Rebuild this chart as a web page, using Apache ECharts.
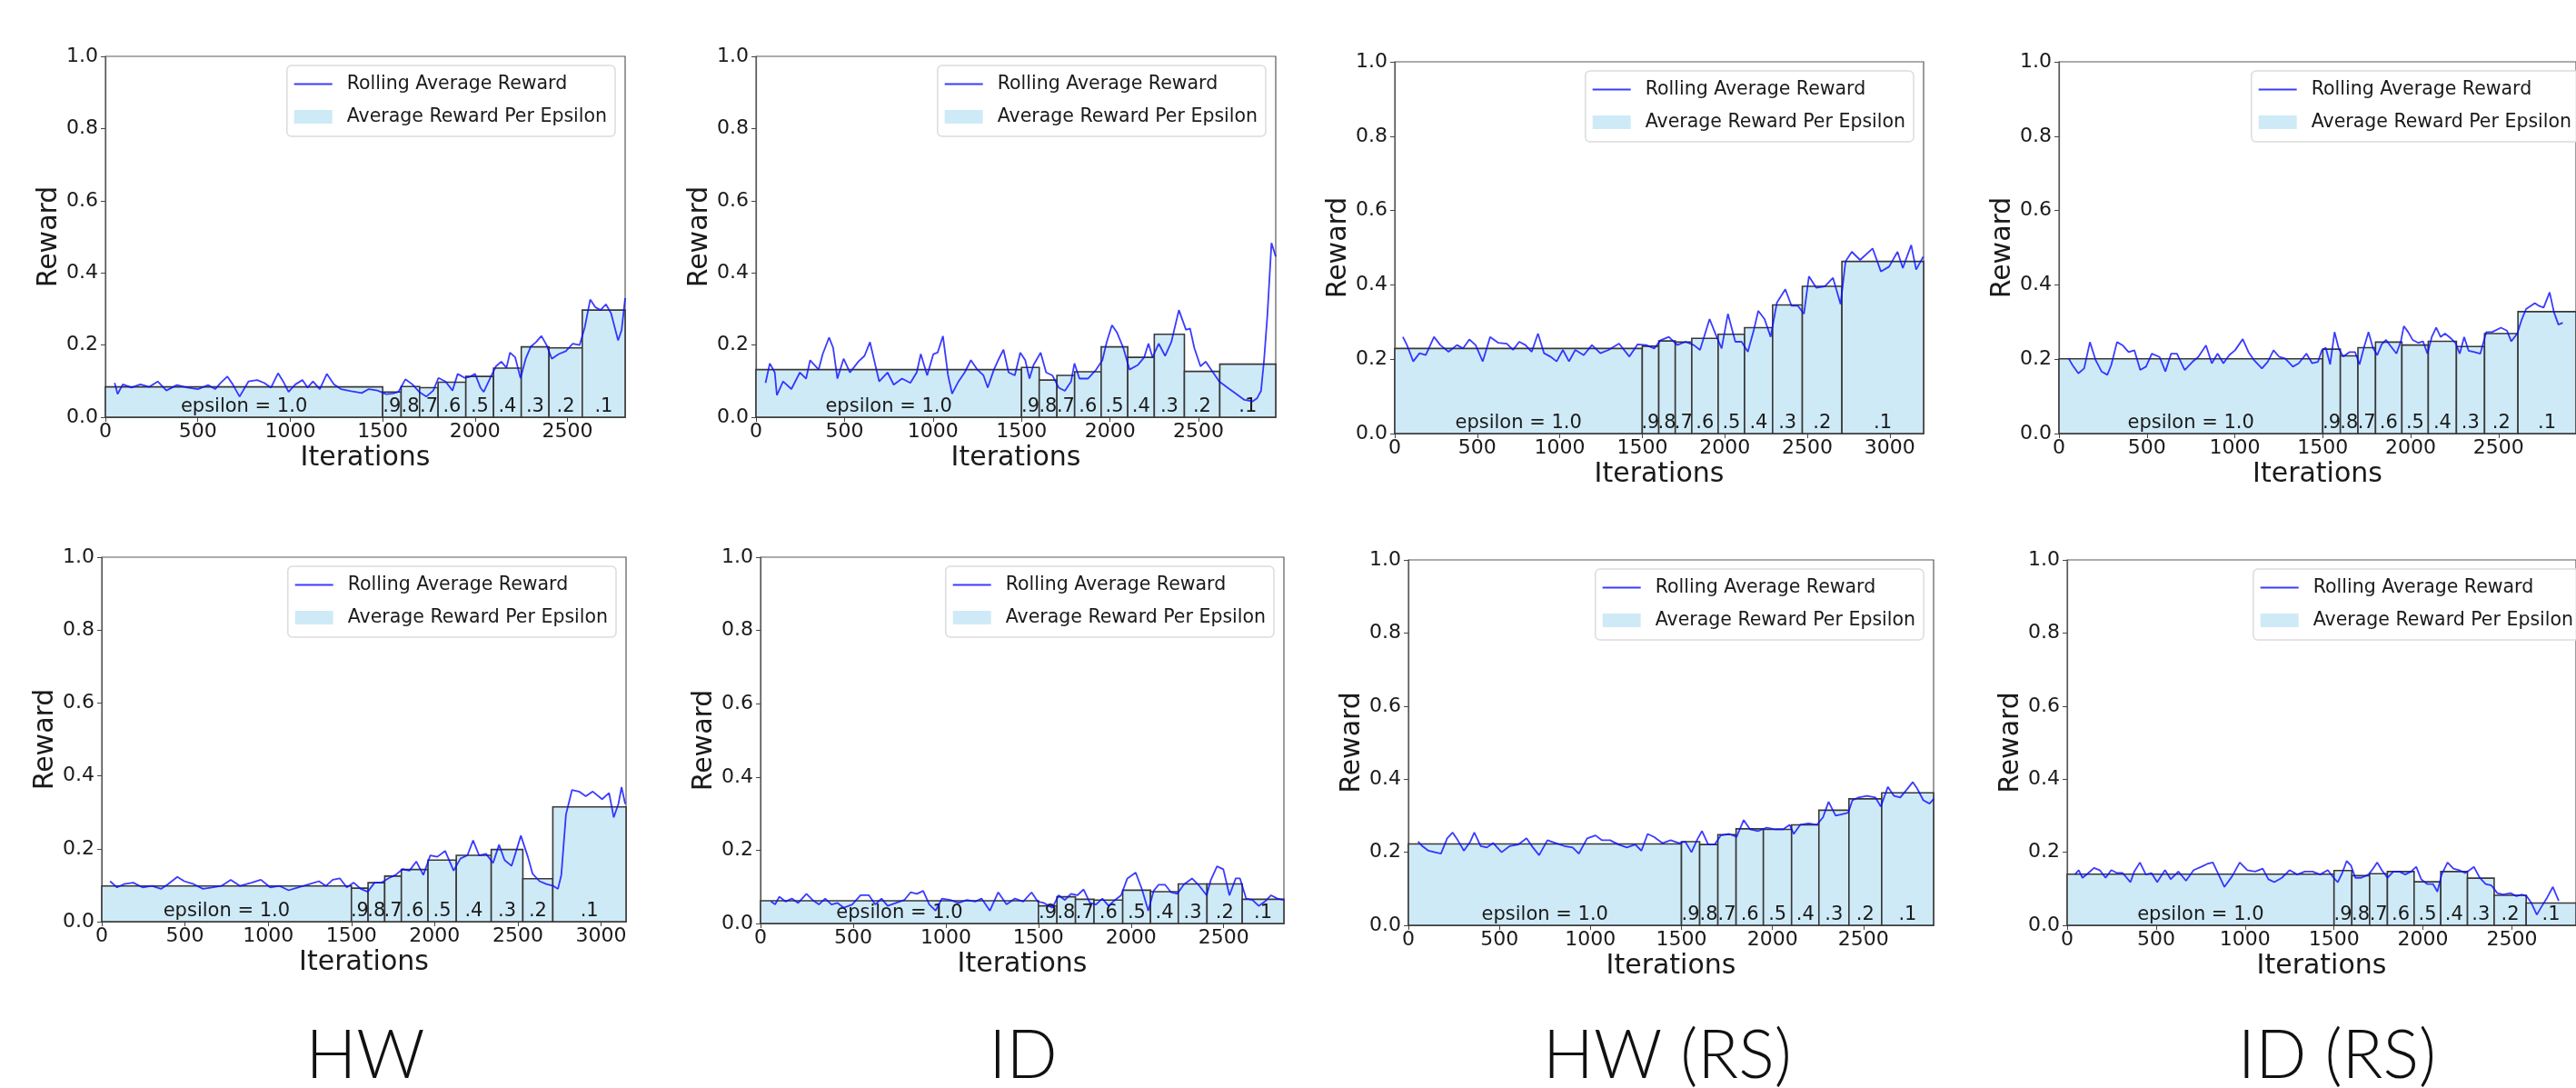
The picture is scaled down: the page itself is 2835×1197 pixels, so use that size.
<!DOCTYPE html>
<html>
<head>
<meta charset="utf-8">
<script src="https://cdn.jsdelivr.net/npm/echarts@6/dist/echarts.min.js"></script>
<style>
html, body { margin: 0; padding: 0; background: #fff; }
#main { width: 2835px; height: 1197px; }
</style>
</head>
<body>
<div id="main"></div>
<script>
// values
var epsLabels = ['epsilon = 1.0', '.9', '.8', '.7', '.6', '.5', '.4', '.3', '.2', '.1'];
var xTickValues = [0, 500, 1000, 1500, 2000, 2500, 3000];
var yTickValues = [0, 0.2, 0.4, 0.6, 0.8, 1.0];
var columnTitles = ['HW', 'ID', 'HW (RS)', 'ID (RS)'];

// HW, top row
var hwTopEdges = [0, 1500, 1600, 1700, 1800, 1950, 2100, 2250, 2400, 2580, 2812];
var hwTopAvg = [0.084, 0.070, 0.085, 0.082, 0.097, 0.113, 0.136, 0.195, 0.192, 0.297];
var hwTopReward = [[50,.095],[66,.064],[94,.091],[142,.082],[189,.091],[236,.084],[283,.099],[330,.074],[387,.089],[443,.082],[500,.078],[557,.089],[594,.078],[623,.095],[660,.113],[689,.091],[726,.057],[774,.099],[821,.103],[859,.095],[896,.082],[934,.122],[962,.099],[991,.070],[1028,.091],[1066,.103],[1094,.082],[1123,.099],[1160,.078],[1198,.120],[1236,.091],[1274,.078],[1330,.072],[1387,.067],[1425,.078],[1472,.074],[1519,.064],[1557,.066],[1585,.070],[1623,.105],[1661,.091],[1698,.070],[1736,.057],[1774,.074],[1802,.109],[1840,.099],[1878,.074],[1906,.120],[1944,.109],[1972,.112],[2000,.120],[2029,.082],[2047,.070],[2085,.112],[2113,.141],[2142,.154],[2170,.137],[2189,.179],[2217,.166],[2246,.108],[2274,.162],[2302,.196],[2330,.208],[2359,.225],[2387,.200],[2415,.162],[2453,.175],[2491,.183],[2529,.204],[2566,.200],[2594,.250],[2623,.326],[2651,.305],[2679,.297],[2708,.313],[2736,.288],[2755,.250],[2774,.213],[2793,.242],[2812,.330]];

// ID, top row
var idTopEdges = [0, 1500, 1600, 1700, 1800, 1950, 2100, 2250, 2420, 2620, 2936];
var idTopAvg = [0.132, 0.138, 0.103, 0.116, 0.126, 0.195, 0.166, 0.230, 0.127, 0.147];
var idTopReward = [[54,.095],[78,.149],[106,.124],[118,.061],[153,.099],[200,.078],[248,.124],[283,.107],[306,.158],[354,.132],[377,.175],[413,.221],[436,.192],[460,.107],[495,.162],[531,.124],[578,.154],[613,.170],[644,.208],[672,.149],[696,.099],[743,.124],[778,.090],[825,.107],[872,.095],[908,.124],[931,.175],[967,.116],[1002,.175],[1026,.179],[1056,.225],[1085,.116],[1108,.065],[1144,.099],[1179,.124],[1214,.158],[1250,.132],[1285,.116],[1309,.082],[1344,.132],[1368,.158],[1398,.187],[1427,.124],[1462,.116],[1493,.179],[1521,.158],[1545,.107],[1568,.145],[1608,.179],[1639,.124],[1674,.116],[1710,.082],[1745,.073],[1780,.099],[1799,.149],[1827,.107],[1875,.107],[1922,.132],[1957,.158],[1981,.208],[2011,.255],[2040,.234],[2075,.192],[2110,.132],[2158,.145],[2193,.166],[2217,.204],[2240,.166],[2275,.204],[2311,.170],[2346,.208],[2389,.297],[2429,.242],[2452,.246],[2476,.192],[2511,.141],[2540,.154],[2582,.124],[2617,.099],[2664,.082],[2712,.065],[2759,.048],[2806,.044],[2830,.052],[2853,.073],[2870,.158],[2889,.284],[2912,.483],[2936,.445]];

// HW (RS), top row
var hwRsTopEdges = [0, 1500, 1600, 1700, 1800, 1960, 2120, 2290, 2470, 2710, 3205];
var hwRsTopAvg = [0.229, 0.235, 0.249, 0.246, 0.256, 0.267, 0.285, 0.346, 0.396, 0.463];
var hwRsTopReward = [[49,.260],[74,.238],[112,.194],[150,.216],[188,.211],[238,.260],[276,.238],[326,.220],[377,.238],[414,.229],[452,.253],[490,.238],[533,.194],[578,.260],[628,.244],[679,.242],[717,.225],[754,.247],[792,.238],[830,.220],[868,.269],[905,.216],[943,.207],[981,.194],[1019,.225],[1056,.194],[1094,.225],[1145,.211],[1195,.238],[1246,.216],[1296,.225],[1359,.242],[1422,.207],[1472,.240],[1523,.238],[1573,.229],[1611,.251],[1661,.260],[1712,.238],[1762,.247],[1812,.238],[1850,.225],[1908,.308],[1951,.260],[1981,.229],[2019,.322],[2064,.247],[2102,.247],[2140,.220],[2178,.282],[2203,.330],[2241,.308],[2278,.260],[2316,.352],[2367,.388],[2404,.344],[2442,.344],[2480,.322],[2510,.423],[2555,.392],[2606,.396],[2656,.419],[2702,.348],[2732,.463],[2770,.489],[2820,.467],[2896,.498],[2946,.436],[2996,.449],[3047,.489],[3079,.445],[3130,.507],[3160,.441],[3203,.476]];

// ID (RS), top row
var idRsTopEdges = [0, 1500, 1600, 1700, 1800, 1950, 2100, 2260, 2420, 2610, 2940];
var idRsTopAvg = [0.201, 0.227, 0.209, 0.231, 0.246, 0.238, 0.248, 0.234, 0.269, 0.328];
var idRsTopReward = [[55,.202],[77,.184],[110,.162],[143,.175],[176,.246],[209,.197],[242,.167],[275,.158],[297,.184],[330,.246],[363,.237],[396,.219],[429,.224],[462,.171],[495,.180],[528,.215],[572,.206],[605,.167],[638,.215],[671,.215],[715,.171],[759,.193],[792,.206],[836,.237],[869,.189],[902,.215],[935,.189],[968,.211],[1001,.224],[1045,.254],[1078,.219],[1110,.197],[1154,.175],[1187,.193],[1220,.224],[1253,.206],[1286,.202],[1330,.180],[1363,.189],[1407,.215],[1440,.189],[1473,.193],[1495,.224],[1517,.231],[1542,.186],[1567,.273],[1592,.227],[1617,.207],[1651,.219],[1684,.219],[1709,.186],[1734,.231],[1760,.273],[1785,.231],[1810,.211],[1835,.240],[1860,.252],[1885,.236],[1919,.215],[1944,.248],[1961,.289],[1986,.273],[2011,.252],[2044,.244],[2070,.248],[2095,.215],[2120,.260],[2145,.285],[2170,.260],[2195,.269],[2229,.256],[2254,.244],[2279,.215],[2304,.260],[2329,.223],[2363,.219],[2396,.215],[2430,.273],[2463,.273],[2513,.285],[2547,.277],[2572,.248],[2606,.269],[2631,.306],[2656,.335],[2681,.343],[2706,.351],[2731,.343],[2756,.339],[2790,.380],[2815,.326],[2840,.293],[2865,.298]];

// HW, bottom row
var hwBotEdges = [0, 1500, 1600, 1700, 1800, 1960, 2130, 2340, 2530, 2710, 3150];
var hwBotAvg = [0.098, 0.092, 0.107, 0.125, 0.143, 0.169, 0.182, 0.198, 0.118, 0.315];
var hwBotReward = [[50,.111],[92,.094],[133,.103],[189,.107],[245,.094],[301,.098],[356,.090],[398,.103],[454,.123],[496,.111],[552,.103],[608,.090],[663,.094],[719,.098],[775,.115],[831,.098],[900,.107],[956,.115],[1012,.094],[1068,.098],[1123,.086],[1179,.094],[1249,.103],[1305,.111],[1347,.098],[1388,.115],[1430,.119],[1472,.094],[1514,.107],[1556,.090],[1598,.082],[1639,.107],[1681,.107],[1723,.119],[1765,.128],[1807,.144],[1849,.140],[1890,.165],[1932,.128],[1974,.182],[2016,.178],[2063,.194],[2114,.140],[2155,.173],[2197,.182],[2231,.223],[2267,.182],[2309,.186],[2351,.161],[2387,.211],[2420,.169],[2462,.153],[2490,.194],[2518,.236],[2560,.178],[2588,.132],[2630,.111],[2671,.103],[2713,.098],[2741,.090],[2761,.128],[2789,.294],[2825,.361],[2867,.357],[2908,.344],[2950,.357],[3006,.336],[3048,.353],[3076,.286],[3104,.323],[3123,.369],[3145,.323]];

// ID, bottom row
var idBotEdges = [0, 1500, 1600, 1700, 1800, 1955, 2105, 2255, 2410, 2600, 2825];
var idBotAvg = [0.062, 0.048, 0.073, 0.066, 0.064, 0.091, 0.087, 0.108, 0.108, 0.066];
var idBotReward = [[56,.060],[79,.052],[101,.073],[135,.060],[169,.068],[203,.056],[248,.081],[281,.064],[315,.052],[349,.068],[383,.052],[416,.056],[450,.043],[495,.052],[540,.077],[585,.077],[619,.052],[653,.068],[686,.048],[731,.056],[776,.064],[810,.085],[844,.081],[878,.089],[911,.052],[945,.035],[979,.068],[1024,.064],[1069,.056],[1114,.064],[1159,.060],[1193,.068],[1238,.035],[1283,.085],[1328,.052],[1373,.068],[1418,.060],[1463,.085],[1496,.060],[1530,.056],[1575,.043],[1609,.077],[1643,.064],[1676,.081],[1710,.077],[1744,.093],[1778,.056],[1811,.052],[1845,.068],[1879,.048],[1913,.064],[1946,.077],[1980,.123],[2025,.139],[2059,.093],[2093,.035],[2122,.089],[2149,.106],[2183,.106],[2216,.085],[2250,.081],[2284,.106],[2329,.123],[2363,.106],[2408,.077],[2430,.118],[2464,.156],[2498,.148],[2531,.077],[2565,.123],[2588,.123],[2621,.068],[2655,.064],[2689,.048],[2723,.060],[2756,.077],[2790,.068],[2824,.064]];

// HW (RS), bottom row
var hwRsBotEdges = [0, 1500, 1600, 1700, 1800, 1950, 2105, 2255, 2420, 2600, 2885];
var hwRsBotAvg = [0.2225, 0.229, 0.221, 0.248, 0.264, 0.2625, 0.275, 0.315, 0.346, 0.3625];
var hwRsBotReward = [[53,.229],[76,.217],[110,.204],[145,.200],[179,.196],[213,.238],[243,.254],[271,.233],[305,.204],[340,.229],[362,.254],[397,.217],[431,.213],[466,.225],[512,.200],[557,.217],[603,.221],[649,.238],[684,.213],[718,.192],[764,.233],[810,.225],[856,.217],[902,.213],[936,.196],[982,.238],[1028,.246],[1062,.233],[1108,.233],[1154,.221],[1200,.213],[1246,.221],[1280,.204],[1314,.250],[1349,.242],[1395,.225],[1441,.233],[1487,.225],[1521,.229],[1555,.200],[1590,.238],[1613,.258],[1647,.221],[1682,.221],[1716,.246],[1762,.250],[1803,.242],[1842,.288],[1876,.263],[1922,.258],[1968,.267],[2014,.263],[2060,.263],[2094,.275],[2117,.250],[2152,.275],[2198,.279],[2244,.275],[2278,.296],[2308,.338],[2347,.300],[2381,.304],[2416,.308],[2439,.342],[2473,.350],[2519,.354],[2565,.350],[2595,.325],[2634,.379],[2668,.354],[2702,.350],[2737,.371],[2771,.392],[2794,.375],[2829,.342],[2863,.333],[2886,.346]];

// ID (RS), bottom row
var idRsBotEdges = [0, 1500, 1600, 1700, 1800, 1950, 2100, 2250, 2400, 2580, 2860];
var idRsBotAvg = [0.140, 0.150, 0.136, 0.141, 0.147, 0.119, 0.147, 0.129, 0.082, 0.061];
var idRsBotReward = [[43,.139],[65,.151],[86,.130],[119,.143],[151,.157],[183,.151],[216,.130],[248,.151],[280,.143],[312,.143],[356,.118],[377,.147],[409,.172],[442,.139],[474,.143],[506,.118],[550,.151],[582,.126],[625,.147],[668,.122],[711,.151],[754,.160],[787,.168],[819,.172],[851,.139],[884,.105],[927,.134],[970,.172],[1013,.151],[1056,.147],[1099,.155],[1131,.126],[1164,.118],[1207,.130],[1250,.151],[1293,.139],[1336,.147],[1379,.147],[1422,.139],[1465,.151],[1498,.130],[1521,.118],[1546,.143],[1571,.176],[1595,.164],[1620,.130],[1653,.130],[1694,.139],[1719,.155],[1743,.172],[1768,.151],[1801,.130],[1834,.147],[1867,.147],[1900,.139],[1933,.147],[1962,.160],[1990,.126],[2023,.113],[2056,.113],[2081,.092],[2105,.139],[2138,.172],[2171,.155],[2204,.151],[2237,.143],[2262,.151],[2286,.160],[2319,.130],[2352,.113],[2385,.109],[2418,.088],[2451,.084],[2492,.088],[2525,.080],[2558,.084],[2582,.080],[2607,.063],[2640,.029],[2665,.050],[2698,.076],[2730,.105],[2763,.067]];

var SKY = '#cfeaf7';
var BLUE = 'rgba(10,10,255,0.8)';
var FONT = '"DejaVu Sans", sans-serif';
var INK = '#1a1a1a';

// plot boxes in pixels: left, top, width, height
var panels = [
    { edges: hwTopEdges, avg: hwTopAvg, reward: hwTopReward, box: [116, 62, 572, 397] },
    { edges: idTopEdges, avg: idTopAvg, reward: idTopReward, box: [832, 62, 572, 397] },
    { edges: hwRsTopEdges, avg: hwRsTopAvg, reward: hwRsTopReward, box: [1535, 68, 582, 409] },
    { edges: idRsTopEdges, avg: idRsTopAvg, reward: idRsTopReward, box: [2266, 68, 584, 409] },
    { edges: hwBotEdges, avg: hwBotAvg, reward: hwBotReward, box: [112, 613, 577, 401] },
    { edges: idBotEdges, avg: idBotAvg, reward: idBotReward, box: [837, 613, 576, 403] },
    { edges: hwRsBotEdges, avg: hwRsBotAvg, reward: hwRsBotReward, box: [1550, 616, 578, 402] },
    { edges: idRsBotEdges, avg: idRsBotAvg, reward: idRsBotReward, box: [2275, 616, 577, 402] }
];
var titleX = [402, 1126, 1835, 2572];

function barRenderer(params, api) {
    var i = params.dataIndex;
    var p0 = api.coord([api.value(0), api.value(2)]);
    var p1 = api.coord([api.value(1), 0]);
    return {
        type: 'group',
        children: [{
            type: 'rect',
            shape: { x: p0[0], y: p0[1], width: p1[0] - p0[0], height: p1[1] - p0[1] },
            style: { fill: SKY, stroke: '#383838', lineWidth: 1.6 }
        }, {
            type: 'text',
            x: (p0[0] + p1[0]) / 2,
            y: p1[1] - 1,
            z2: 10,
            style: {
                text: epsLabels[i],
                fill: INK,
                font: '21px ' + FONT,
                align: 'center',
                verticalAlign: 'bottom'
            }
        }]
    };
}

var grid = [], xAxis = [], yAxis = [], series = [], legend = [], graphic = [];

panels.forEach(function (p, k) {
    var b = p.box;
    var xmax = p.edges[p.edges.length - 1];
    var ticks = xTickValues.filter(function (v) { return v <= xmax; });

    grid.push({
        left: b[0], top: b[1], width: b[2], height: b[3],
        show: true, borderColor: '#5a5a5a', borderWidth: 1.2, backgroundColor: '#fff'
    });

    xAxis.push({
        gridIndex: k, type: 'value', min: 0, max: xmax, interval: 500,
        name: 'Iterations', nameLocation: 'middle', nameGap: 30,
        nameTextStyle: { fontSize: 30, fontFamily: FONT, color: INK },
        axisLine: { show: true, onZero: false, lineStyle: { color: '#5a5a5a', width: 1.2 } },
        axisTick: { show: true, length: 5, customValues: ticks, lineStyle: { color: '#444' } },
        axisLabel: {
            customValues: ticks, fontSize: 22, fontFamily: FONT, color: INK, margin: 5,
            formatter: function (v) { return String(v); }
        },
        splitLine: { show: false }
    });

    yAxis.push({
        gridIndex: k, type: 'value', min: 0, max: 1, interval: 0.2,
        name: 'Reward', nameLocation: 'middle', nameGap: 45, nameRotate: 90,
        nameTextStyle: { fontSize: 30, fontFamily: FONT, color: INK },
        axisLine: { show: true, onZero: false, lineStyle: { color: '#5a5a5a', width: 1.2 } },
        axisTick: { show: true, length: 5, customValues: yTickValues, lineStyle: { color: '#444' } },
        axisLabel: {
            customValues: yTickValues, fontSize: 22, fontFamily: FONT, color: INK, margin: 8,
            formatter: function (v) { return v.toFixed(1); }
        },
        splitLine: { show: false }
    });

    var bars = p.avg.map(function (h, i) { return [p.edges[i], p.edges[i + 1], h]; });

    series.push({
        name: 'Average Reward Per Epsilon',
        type: 'custom',
        xAxisIndex: k, yAxisIndex: k,
        renderItem: barRenderer,
        encode: { x: [0, 1], y: 2 },
        itemStyle: { color: SKY },
        data: bars,
        z: 2,
        silent: true
    });

    series.push({
        name: 'Rolling Average Reward',
        type: 'line',
        xAxisIndex: k, yAxisIndex: k,
        data: p.reward,
        symbol: 'none',
        showSymbol: false,
        lineStyle: { color: BLUE, width: 1.8 },
        itemStyle: { color: BLUE },
        z: 3,
        silent: true
    });

    legend.push({
        right: 2835 - (b[0] + b[2] - 11),
        top: b[1] + 10,
        orient: 'vertical',
        itemWidth: 42, itemHeight: 15, itemGap: 15,
        padding: [10, 9, 11, 7],
        borderColor: '#dcdcdc', borderWidth: 1.5, borderRadius: 5,
        backgroundColor: 'rgba(255,255,255,0.85)',
        selectedMode: false,
        textStyle: { fontSize: 20.5, fontFamily: FONT, color: INK, padding: [0, 0, 0, 11] },
        data: [
            { name: 'Rolling Average Reward', itemStyle: { opacity: 0 }, lineStyle: { width: 1.8, color: BLUE } },
            { name: 'Average Reward Per Epsilon', icon: 'rect', itemStyle: { color: SKY, borderWidth: 0 } }
        ]
    });
});

columnTitles.forEach(function (t, i) {
    graphic.push({
        type: 'text',
        x: titleX[i],
        y: 1162,
        style: {
            text: t,
            fill: '#111',
            font: '300 74px Lato, "Open Sans", sans-serif',
            align: 'center',
            verticalAlign: 'middle'
        }
    });
});

var myChart = echarts.init(document.getElementById('main'));
var option = {
    backgroundColor: '#fff',
    animation: false,
    textStyle: { fontFamily: FONT },
    grid: grid,
    xAxis: xAxis,
    yAxis: yAxis,
    legend: legend,
    series: series,
    graphic: graphic
};
myChart.setOption(option);
window.addEventListener('resize', function () {
    myChart.resize();
});
</script>
</body>
</html>
